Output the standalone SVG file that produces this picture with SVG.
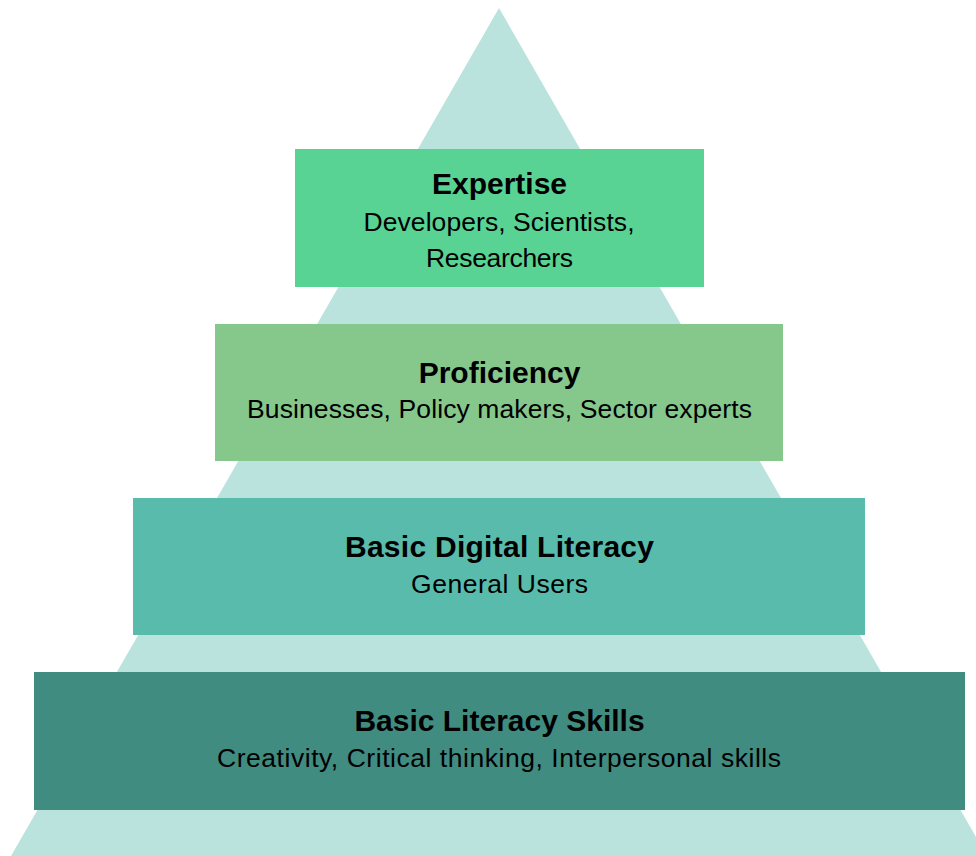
<svg xmlns="http://www.w3.org/2000/svg" width="976" height="856" viewBox="0 0 976 856">
<style>
.t{font-family:"Liberation Sans",Arial,sans-serif;font-weight:bold;font-size:30px;fill:#000;text-anchor:middle}
.s{font-family:"Liberation Sans",Arial,sans-serif;font-size:26.5px;fill:#000;text-anchor:middle}
</style>
<rect width="976" height="856" fill="#fff"/>
<polygon id="pyramid" points="499,8 987,856 11,856" fill="#BAE3DE"/>
<g id="connectors"/>
<g id="expertise">
<rect x="295" y="149" width="409" height="138" fill="#58D394"/>
<text class="t" x="499.5" y="194">Expertise</text>
<text class="s" x="499" y="231" textLength="271" lengthAdjust="spacing">Developers, Scientists,</text>
<text class="s" x="499.5" y="267" textLength="147" lengthAdjust="spacing">Researchers</text>
</g>
<g id="proficiency">
<rect x="215" y="324" width="568" height="137" fill="#86C78C"/>
<text class="t" x="499.5" y="383">Proficiency</text>
<text class="s" x="499.5" y="418" textLength="505" lengthAdjust="spacing">Businesses, Policy makers, Sector experts</text>
</g>
<g id="digital">
<rect x="133" y="498" width="732" height="137" fill="#58BBAB"/>
<text class="t" x="499.5" y="557" textLength="309" lengthAdjust="spacing">Basic Digital Literacy</text>
<text class="s" x="499.5" y="593" textLength="177" lengthAdjust="spacing">General Users</text>
</g>
<g id="literacy">
<rect x="34" y="672" width="931" height="138" fill="#418C80"/>
<text class="t" x="499.5" y="731">Basic Literacy Skills</text>
<text class="s" x="499" y="767" textLength="564" lengthAdjust="spacing">Creativity, Critical thinking, Interpersonal skills</text>
</g>
</svg>
